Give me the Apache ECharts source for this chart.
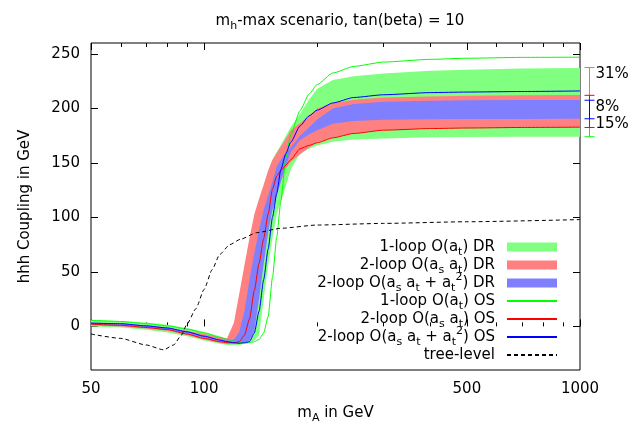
<!DOCTYPE html>
<html>
<head>
<meta charset="utf-8">
<script src="https://cdn.jsdelivr.net/npm/echarts@6.0.0/dist/echarts.min.js"></script>
<style>
  html, body { margin: 0; padding: 0; background: #fff; }
  #chart { width: 633px; height: 425px; }
</style>
</head>
<body>
<div id="chart"></div>
<script>
// m_A values (GeV) the curves were read at
var mA = [50, 60, 70, 80, 90, 100, 110, 115, 120, 124, 128, 132, 136, 140, 144, 148, 152, 156, 160, 165, 170, 180, 190, 200, 220, 250, 300, 400, 500, 700, 1000];

// DR bands, lower and upper edge
var oneLoopDRlo = [0, -1, -3, -5.5, -9, -13, -16, -17, -17, -17, -16, -15, -13, -8, 25, 56, 81, 103, 115, 129, 144, 159, 163, 166, 169.5, 171.5, 172.5, 173.5, 173.8, 174, 174];
var oneLoopDRhi = [6, 5, 3.5, 1.5, -1.5, -5, -9, -11, -7, 0, 33, 62.5, 87.5, 108, 125, 142, 153, 160, 166.5, 175, 183, 195, 208, 218, 226, 229.5, 232, 234.5, 235.5, 236.5, 237];
var twoLoopDRlo = [1, 0, -2, -4, -8, -12, -15, -16, -16, -15.5, -14, -8, 15, 50, 75, 97, 110, 122, 133, 145, 151, 158, 164, 169, 173, 177, 180, 181.5, 182, 182.5, 182.8];
var twoLoopDRhi = [3, 2, 0.5, -1.5, -4, -7, -10, -11, 3.3, 30, 56, 81, 103, 117, 130, 143, 153, 159, 165, 172.5, 180, 186.7, 193.3, 200, 205, 208, 210, 211, 211.5, 212, 212.4];
var fullDRlo = [1.5, 0.5, -1, -3, -6.5, -10.5, -13.5, -15, -15.5, -15.5, -15, -13, -4, 25, 57, 86, 107, 120, 133, 147.5, 160, 171, 176, 180, 186, 188.5, 189.5, 190, 190.2, 190.3, 190.4];
var fullDRhi = [3.5, 2.5, 1, -1, -4.5, -8.5, -12, -13, -12, -5, 14, 43, 67, 89, 107, 120, 133, 147, 153, 159, 164, 175, 182.5, 190, 200, 204, 206, 207, 207.5, 207.7, 207.8];

// OS lines
var oneLoopOS = [5.5, 4.5, 2.5, 0.5, -2.5, -6, -10, -12, -13.5, -14.5, -15, -15, -14, -12, -6, 9, 45, 82, 115, 155, 176, 198, 213, 222, 232.5, 238.5, 242.5, 245, 246, 246.8, 247];
var twoLoopOS = [2, 1, -1, -3, -7, -11, -14, -15, -15, -14, -8, 6.7, 33, 58, 80.5, 103, 126, 138, 143, 148, 153, 163, 166, 168.5, 173, 177, 180, 181.5, 182, 182.5, 182.8];
var fullOS = [3, 2.5, 0.5, -1.5, -5, -9, -12.5, -14, -15, -15.5, -15, -14, -6, 14, 43, 71, 100, 122, 144, 158.6, 169, 184, 193, 198.5, 205, 210, 212.5, 214.5, 215, 215.5, 216];

// tree level
var treeMA = [50, 60, 70, 78, 83, 87, 90, 95, 100, 105, 110, 117, 125, 138, 160, 200, 300, 500, 1000];
var treeLevel = [-7, -11, -17, -21.5, -17, -8, 2, 16, 34, 52, 66, 75, 80, 86, 90, 93, 94.5, 96, 98];

// axis ticks
var xTicks = [50, 100, 500, 1000];
var xMinor = [60, 70, 80, 90, 200, 300, 400, 600, 700, 800, 900];
var yTicks = [0, 50, 100, 150, 200, 250];

// spread bars at the right edge
var barText = ['31%', '15%', '8%'];
var barLo = [174, 182.5, 190.5];
var barHi = [237.5, 212, 207.5];

var FONT = 'DejaVu Sans';
var C_GREEN = '#00ff00', C_RED = '#ff0000', C_BLUE = '#0000ff';
var barColor = [C_GREEN, C_RED, C_BLUE];

var names = [
  '1-loop O(at) DR', '2-loop O(as at) DR', '2-loop O(as at + at2) DR',
  '1-loop O(at) OS', '2-loop O(as at) OS', '2-loop O(as at + at2) OS', 'tree-level'
];
var richNames = {};
richNames[names[0]] = '1-loop O(a{s|t}) DR';
richNames[names[1]] = '2-loop O(a{s|s} a{s|t}) DR';
richNames[names[2]] = '2-loop O(a{s|s} a{s|t} + a{s|t}{p|2}) DR';
richNames[names[3]] = '1-loop O(a{s|t}) OS';
richNames[names[4]] = '2-loop O(a{s|s} a{s|t}) OS';
richNames[names[5]] = '2-loop O(a{s|s} a{s|t} + a{s|t}{p|2}) OS';
richNames[names[6]] = 'tree-level';

var subsup = {
  s: { fontSize: 11, lineHeight: 11, verticalAlign: 'bottom', fontFamily: FONT, color: '#000' },
  p: { fontSize: 11, lineHeight: 11, verticalAlign: 'top', fontFamily: FONT, color: '#000' }
};

function band(name, lo, hi, color) {
  return {
    name: name,
    type: 'custom',
    clip: true,
    silent: true,
    itemStyle: { color: color },
    data: mA.map(function (m, i) { return [m, lo[i], hi[i]]; }),
    encode: { x: 0, y: [1, 2] },
    renderItem: function (params, api) {
      if (params.dataIndex !== 0) return null;
      var top = [], bot = [];
      for (var i = 0; i < mA.length; i++) {
        top.push(api.coord([mA[i], hi[i]]));
        bot.push(api.coord([mA[i], lo[i]]));
      }
      return {
        type: 'polygon',
        shape: { points: top.concat(bot.reverse()) },
        style: { fill: color }
      };
    }
  };
}

function curve(name, xs, ys, color, extra) {
  var s = {
    name: name,
    type: 'line',
    data: xs.map(function (m, i) { return [m, ys[i]]; }),
    symbol: 'none',
    smooth: 0.2,
    smoothMonotone: 'x',
    silent: true,
    z: 4,
    itemStyle: { color: color },
    lineStyle: { color: color, width: 1 }
  };
  if (extra) s.lineStyle.type = extra;
  return s;
}

var dom = document.getElementById('chart');
var myChart = echarts.init(dom);

var xBase = {
  type: 'log', logBase: 10, min: 50, max: 1000,
  axisLine: { show: false }, splitLine: { show: false }
};
function xAxisAt(pos, ticks, len, labels) {
  return Object.assign({}, xBase, {
    position: pos,
    axisTick: { inside: true, length: len, customValues: ticks, lineStyle: { color: '#000' } },
    axisLabel: labels ? {
      customValues: ticks, margin: 12, color: '#000', fontSize: 15, fontFamily: FONT,
      formatter: function (v) { return String(Math.round(v)); }
    } : { show: false }
  });
}

// legend entries for the lines: line only, no marker
function lineEntry(n) { return { name: n, itemStyle: { opacity: 0 } }; }

var option = {
  animation: false,
  backgroundColor: '#fff',
  title: {
    text: 'm{s|h}-max scenario, tan(beta) = 10',
    left: 335, top: 5, textAlign: 'center',
    textStyle: { fontSize: 15, fontWeight: 'normal', color: '#000', fontFamily: FONT, lineHeight: 22, rich: subsup }
  },
  grid: {
    left: 91, right: 53, top: 43, bottom: 55,
    show: true, borderColor: '#000', borderWidth: 1,
    containLabel: false, outerBoundsMode: 'none'
  },
  legend: {
    orient: 'vertical', align: 'right',
    right: 75, top: 236, padding: 0,
    itemWidth: 50, itemHeight: 9, itemGap: -4,
    selectedMode: false,
    data: [
      { name: names[0], icon: 'rect' },
      { name: names[1], icon: 'rect' },
      { name: names[2], icon: 'rect' },
      lineEntry(names[3]), lineEntry(names[4]), lineEntry(names[5]), lineEntry(names[6])
    ],
    formatter: function (n) { return richNames[n]; },
    textStyle: { fontSize: 15, lineHeight: 22, color: '#000', fontFamily: FONT, padding: [0, 7, 0, 0], rich: subsup }
  },
  xAxis: [
    Object.assign(xAxisAt('bottom', xTicks, 7, true), {
      name: 'm{s|A} in GeV', nameLocation: 'middle', nameGap: 30,
      nameTextStyle: { fontSize: 15, color: '#000', fontFamily: FONT, lineHeight: 22, rich: subsup }
    }),
    xAxisAt('bottom', xMinor, 4, false),
    xAxisAt('top', xTicks, 7, false),
    xAxisAt('top', xMinor, 4, false)
  ],
  yAxis: [
    {
      type: 'value', min: -40, max: 260, position: 'left',
      axisLine: { show: false }, splitLine: { show: false },
      axisTick: { inside: true, length: 7, customValues: yTicks, lineStyle: { color: '#000' } },
      axisLabel: { customValues: yTicks, margin: 11, color: '#000', fontSize: 15, fontFamily: FONT },
      name: 'hhh Coupling in GeV', nameLocation: 'middle', nameGap: 58,
      nameTextStyle: { fontSize: 15, color: '#000', fontFamily: FONT }
    },
    {
      type: 'value', min: -40, max: 260, position: 'right',
      axisLine: { show: false }, splitLine: { show: false },
      axisTick: { inside: true, length: 7, customValues: yTicks, lineStyle: { color: '#000' } },
      axisLabel: { show: false }
    }
  ],
  series: [
    band(names[0], oneLoopDRlo, oneLoopDRhi, '#80ff80'),
    band(names[1], twoLoopDRlo, twoLoopDRhi, '#ff8080'),
    band(names[2], fullDRlo, fullDRhi, '#8080ff'),
    curve(names[3], mA, oneLoopOS, C_GREEN),
    curve(names[4], mA, twoLoopOS, C_RED),
    curve(names[5], mA, fullOS, C_BLUE),
    curve(names[6], treeMA, treeLevel, '#000', [4, 3]),
    {
      name: 'spread',
      type: 'custom',
      clip: false,
      silent: true,
      data: barLo.map(function (lo, i) { return [1000, lo, barHi[i]]; }),
      encode: { x: 0, y: [1, 2] },
      renderItem: function (params, api) {
        var i = params.dataIndex;
        var lo = api.coord([1000, barLo[i]]);
        var hi = api.coord([1000, barHi[i]]);
        var x = Math.round(lo[0]) + 9.5;
        var c = barColor[i];
        // label sits near the top for green/blue, near the bottom for red
        var ty = i === 1 ? lo[1] - 3 : hi[1] + 7;
        return {
          type: 'group',
          children: [
            { type: 'line', shape: { x1: x, y1: lo[1], x2: x, y2: hi[1] }, style: { stroke: c, lineWidth: 1 } },
            { type: 'line', shape: { x1: x - 5, y1: lo[1], x2: x + 5, y2: lo[1] }, style: { stroke: c, lineWidth: 1 } },
            { type: 'line', shape: { x1: x - 5, y1: hi[1], x2: x + 5, y2: hi[1] }, style: { stroke: c, lineWidth: 1 } },
            { type: 'text', x: x + 6, y: ty, style: { text: barText[i], fill: '#000', fontSize: 15, fontFamily: FONT, verticalAlign: 'middle' } }
          ]
        };
      }
    }
  ]
};

if (option && typeof option === 'object') {
  myChart.setOption(option, true);
}
window.addEventListener('resize', function () { myChart.resize(); });
</script>
</body>
</html>
